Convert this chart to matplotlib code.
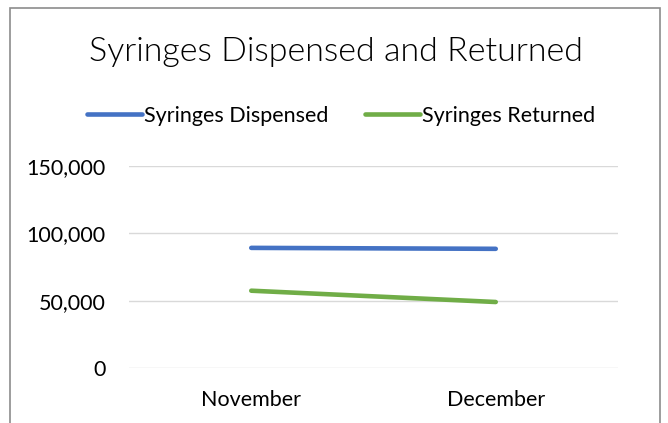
import matplotlib
matplotlib.use("Agg")
import matplotlib.pyplot as plt
from matplotlib.patches import Rectangle
from matplotlib.ticker import FuncFormatter

months = ["November", "December"]
dispensed = [89200, 88500]
returned = [57400, 49000]
y_ticks = [0, 50000, 100000, 150000]

BLUE = "#4472C4"
GREEN = "#70AD47"
TEXT = "#000000"

plt.rcParams['font.family'] = ['Lato', 'DejaVu Sans']

fig = plt.figure(figsize=(6.68, 4.23), dpi=100)
# plot area in pixels: x 129..618, y 166..368 (from top)
W, H = 668, 423
ax = fig.add_axes([129 / W, 1 - 368 / H, (618 - 129) / W, (368 - 166) / H])

x = range(len(months))
ax.plot(x, dispensed, color=BLUE, lw=3.3, solid_capstyle='round', label="Syringes Dispensed")
ax.plot(x, returned, color=GREEN, lw=3.3, solid_capstyle='round', label="Syringes Returned")

ax.set_xlim(-0.5, 1.5)
ax.set_ylim(0, 150000)
ax.set_yticks(y_ticks)
ax.yaxis.set_major_formatter(FuncFormatter(lambda v, p: f"{int(v):,}"))
ax.set_xticks(list(x))
ax.set_xticklabels(months)
ax.grid(axis='y', color='#D9D9D9', lw=1.0)
ax.set_axisbelow(True)
for s in ax.spines.values():
    s.set_visible(False)
ax.tick_params(axis='both', length=0, labelsize=15.5, colors=TEXT)
ax.tick_params(axis='y', pad=17)
ax.tick_params(axis='x', pad=16)

fig.text(336 / W, 1 - 52 / H, "Syringes Dispensed and Returned", ha='center', va='center',
         fontsize=24.5, fontweight=300, color=TEXT)

fig.legend(loc='center', bbox_to_anchor=(341 / W, 1 - 116 / H), ncol=2, frameon=False,
           fontsize=15.5, handlelength=2.55, handletextpad=0.1, columnspacing=1.7)

# chart border
fig.patches.append(Rectangle((10 / W, -0.05), (660 - 10) / W, 1.05 - 8 / H,
                             transform=fig.transFigure, fill=False, edgecolor='#8C8C8C', lw=1.2))

fig.savefig("out.png", dpi=100)
